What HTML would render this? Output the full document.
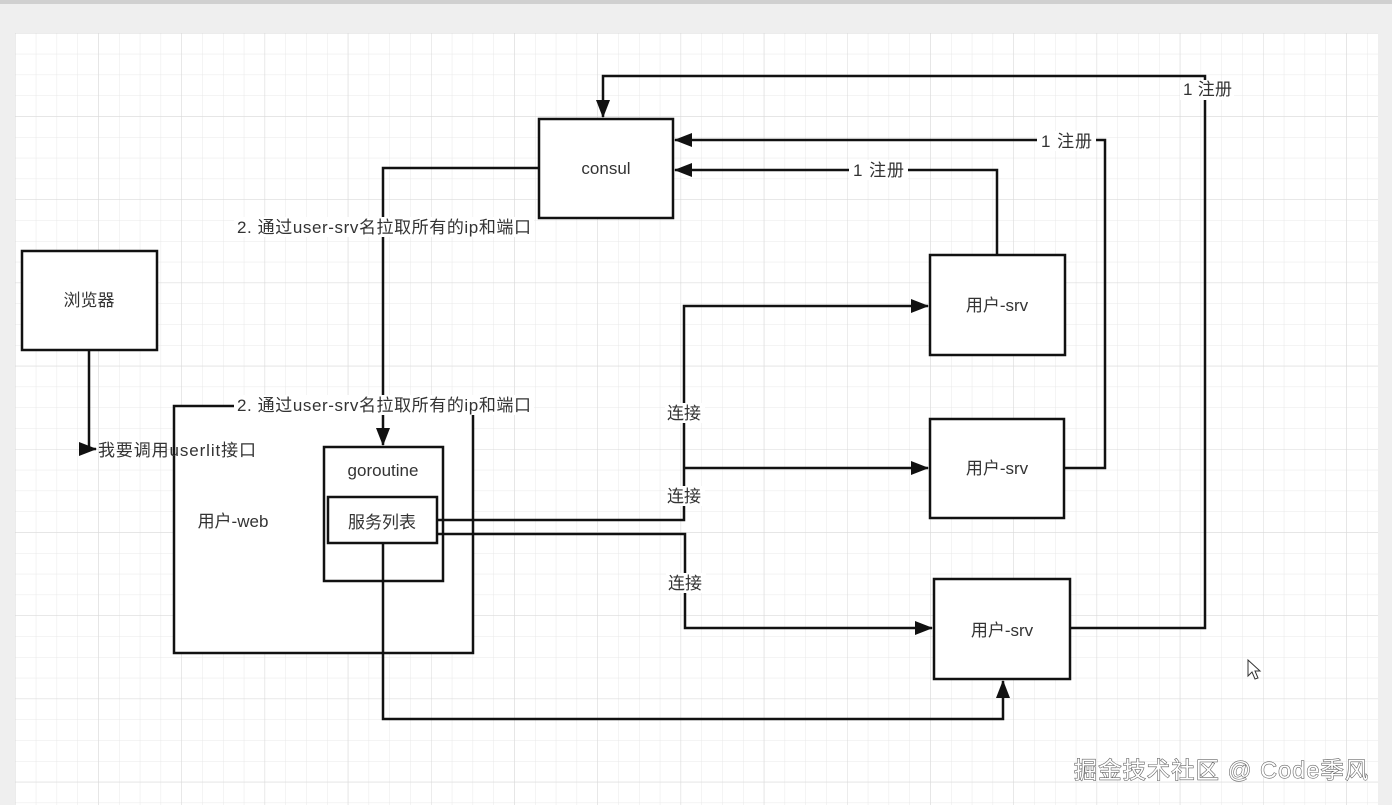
<!DOCTYPE html>
<html><head><meta charset="utf-8"><style>
html,body{margin:0;padding:0;background:#efefef;width:1392px;height:805px;overflow:hidden}
svg{display:block}
text{font-family:"Liberation Sans","Noto Sans CJK SC",sans-serif;fill:#333}
</style></head><body>
<svg width="1392" height="805" viewBox="0 0 1392 805" xmlns="http://www.w3.org/2000/svg">
<defs>
<pattern id="minor" x="15" y="33" width="20.8" height="20.8" patternUnits="userSpaceOnUse">
<path d="M0 0V20.8M0 0H20.8" stroke="#e8e8e8" stroke-width="1" fill="none"/>
</pattern>
<pattern id="major" x="15" y="33" width="83.2" height="83.2" patternUnits="userSpaceOnUse">
<path d="M0 0V83.2M0 0H83.2" stroke="#d8d8d8" stroke-width="1" fill="none"/>
</pattern>
<marker id="ar2" markerWidth="18" markerHeight="14" refX="17" refY="7" orient="auto" markerUnits="userSpaceOnUse">
<path d="M0 0L18 7L0 14Z" fill="#111"/>
</marker>
</defs>
<rect x="0" y="0" width="1392" height="4" fill="#d0d0d0"/>
<rect x="15" y="33" width="1363" height="772" fill="#fff"/>
<rect x="15" y="33" width="1363" height="772" fill="url(#minor)"/>
<rect x="15" y="33" width="1363" height="772" fill="url(#major)"/>

<g fill="none" stroke="#111" stroke-width="2.5">
<rect x="539" y="119" width="134" height="99" fill="#fff"/>
<rect x="22" y="251" width="135" height="99" fill="#fff"/>
<rect x="930" y="255" width="135" height="100" fill="#fff"/>
<rect x="930" y="419" width="134" height="99" fill="#fff"/>
<rect x="934" y="579" width="136" height="100" fill="#fff"/>
<rect x="174" y="406" width="299" height="247" fill="#fff"/>
<rect x="324" y="447" width="119" height="134" fill="#fff"/>
<rect x="328" y="497" width="109" height="46" fill="#fff"/>

<path d="M1070 628H1205V76H603V117" marker-end="url(#ar2)"/>
<path d="M1064 468H1105V140H675" marker-end="url(#ar2)"/>
<path d="M997 255V170H675" marker-end="url(#ar2)"/>
<path d="M539 168H383V445" marker-end="url(#ar2)"/>
<path d="M89 350V449H96" marker-end="url(#ar2)"/>
<path d="M437 520H684V306H928" marker-end="url(#ar2)"/>
<path d="M684 468H928" marker-end="url(#ar2)"/>
<path d="M437 534H685V628H932" marker-end="url(#ar2)"/>
<path d="M383 543V719H1003V681" marker-end="url(#ar2)"/>
</g>

<g fill="#fff">
<rect x="1180" y="80" width="54" height="20"/>
<rect x="1037" y="131" width="59" height="20"/>
<rect x="849" y="160" width="59" height="20"/>
<rect x="234" y="217" width="300" height="20"/>
<rect x="234" y="395" width="300" height="20"/>
<rect x="665" y="403" width="40" height="20"/>
<rect x="665" y="486" width="40" height="20"/>
<rect x="666" y="573" width="40" height="20"/>
</g>

<g font-size="17">
<text x="606" y="174" text-anchor="middle">consul</text>
<text x="89" y="306" text-anchor="middle">浏览器</text>
<text x="997" y="311" text-anchor="middle">用户-srv</text>
<text x="997" y="474" text-anchor="middle">用户-srv</text>
<text x="1002" y="636" text-anchor="middle">用户-srv</text>
<text x="233" y="527" text-anchor="middle">用户-web</text>
<text x="383" y="476" text-anchor="middle">goroutine</text>
<text x="382" y="528" text-anchor="middle">服务列表</text>
<text x="1183" y="95" textLength="49">1 注册</text>
<text x="1041" y="147" textLength="51">1 注册</text>
<text x="853" y="176" textLength="51">1 注册</text>
<text x="237" y="233" textLength="294">2. 通过user-srv名拉取所有的ip和端口</text>
<text x="237" y="411" textLength="294">2. 通过user-srv名拉取所有的ip和端口</text>
<text x="98" y="456" textLength="158">我要调用userlit接口</text>
<text x="667" y="419">连接</text>
<text x="667" y="502">连接</text>
<text x="668" y="589">连接</text>
</g>

<path d="M1248 660L1248 676L1252 672L1255 679L1258 678L1255 671L1260 671Z" fill="#fff" stroke="#333" stroke-width="1"/>

<text x="1074" y="778" font-size="23" textLength="294" style="fill:#fff;stroke:#666;stroke-width:1.2;paint-order:stroke">掘金技术社区 @ Code季风</text>
</svg>
</body></html>
